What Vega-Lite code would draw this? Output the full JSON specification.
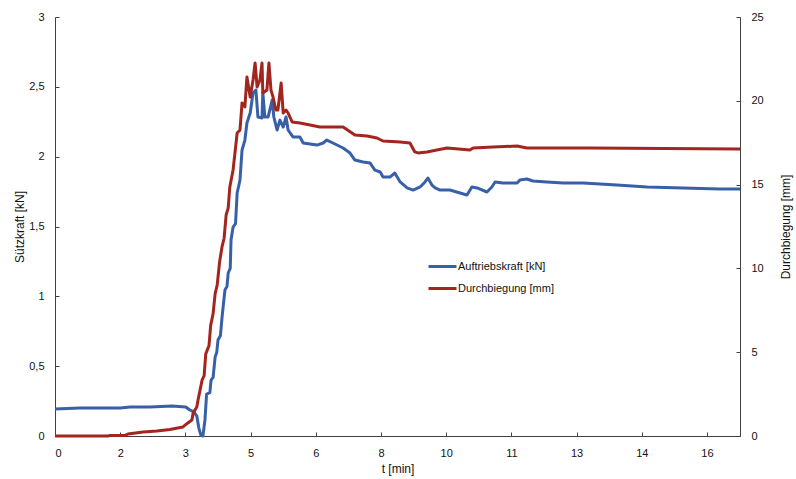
{
  "$schema": "https://vega.github.io/schema/vega-lite/v6.json",
  "width": 685,
  "height": 419,
  "autosize": {"type": "none"},
  "padding": {"left": 55, "top": 17, "right": 56, "bottom": 43},
  "background": "white",
  "config": {
    "font": "Liberation Sans",
    "view": {"stroke": null},
    "axis": {
      "grid": false,
      "labelFont": "Liberation Sans",
      "titleFont": "Liberation Sans",
      "labelFontSize": 11,
      "titleFontSize": 12,
      "titleFontWeight": "normal",
      "labelColor": "#111",
      "titleColor": "#111",
      "domainColor": "#404040",
      "tickColor": "#404040",
      "domainWidth": 1,
      "tickSize": -4,
      "labelPadding": 15
    }
  },
  "datasets": {
    "kraft": [
      {"t": 0, "v": 0.193}, {"t": 0.61, "v": 0.2}, {"t": 1.1, "v": 0.2}, {"t": 1.6, "v": 0.2}, {"t": 1.84, "v": 0.208},
      {"t": 2.33, "v": 0.208}, {"t": 2.87, "v": 0.215}, {"t": 3.21, "v": 0.208}, {"t": 3.31, "v": 0.186}, {"t": 3.41, "v": 0.172},
      {"t": 3.48, "v": 0.143}, {"t": 3.53, "v": 0.057}, {"t": 3.58, "v": 0.006}, {"t": 3.63, "v": 0}, {"t": 3.68, "v": 0.115},
      {"t": 3.72, "v": 0.3}, {"t": 3.8, "v": 0.31}, {"t": 3.83, "v": 0.4}, {"t": 3.88, "v": 0.42}, {"t": 3.93, "v": 0.566}, {"t": 3.97, "v": 0.6}, {"t": 4.0, "v": 0.687},
      {"t": 4.06, "v": 0.72}, {"t": 4.1, "v": 0.852}, {"t": 4.17, "v": 1.045}, {"t": 4.22, "v": 1.07}, {"t": 4.25, "v": 1.167}, {"t": 4.3, "v": 1.2}, {"t": 4.32, "v": 1.403}, {"t": 4.37, "v": 1.496},
      {"t": 4.43, "v": 1.52}, {"t": 4.47, "v": 1.74}, {"t": 4.54, "v": 1.833}, {"t": 4.59, "v": 2.048}, {"t": 4.66, "v": 2.119}, {"t": 4.71, "v": 2.241},
      {"t": 4.79, "v": 2.313}, {"t": 4.86, "v": 2.456}, {"t": 4.93, "v": 2.477}, {"t": 4.98, "v": 2.284}, {"t": 5.08, "v": 2.277},
      {"t": 5.1, "v": 2.456}, {"t": 5.15, "v": 2.284}, {"t": 5.23, "v": 2.284}, {"t": 5.33, "v": 2.406}, {"t": 5.37, "v": 2.284},
      {"t": 5.45, "v": 2.191}, {"t": 5.52, "v": 2.262}, {"t": 5.6, "v": 2.212}, {"t": 5.67, "v": 2.284}, {"t": 5.72, "v": 2.191},
      {"t": 5.84, "v": 2.141}, {"t": 6.01, "v": 2.141}, {"t": 6.09, "v": 2.098}, {"t": 6.43, "v": 2.083}, {"t": 6.58, "v": 2.098},
      {"t": 6.67, "v": 2.119}, {"t": 6.82, "v": 2.098}, {"t": 7.07, "v": 2.062}, {"t": 7.24, "v": 2.026}, {"t": 7.36, "v": 1.976},
      {"t": 7.56, "v": 1.962}, {"t": 7.73, "v": 1.955}, {"t": 7.85, "v": 1.904}, {"t": 7.98, "v": 1.89}, {"t": 8.05, "v": 1.854},
      {"t": 8.22, "v": 1.854}, {"t": 8.34, "v": 1.883}, {"t": 8.47, "v": 1.819}, {"t": 8.64, "v": 1.776}, {"t": 8.79, "v": 1.761},
      {"t": 8.96, "v": 1.783}, {"t": 9.08, "v": 1.819}, {"t": 9.15, "v": 1.847}, {"t": 9.25, "v": 1.797}, {"t": 9.33, "v": 1.776},
      {"t": 9.45, "v": 1.761}, {"t": 9.69, "v": 1.761}, {"t": 9.94, "v": 1.74}, {"t": 10.11, "v": 1.726}, {"t": 10.23, "v": 1.783},
      {"t": 10.36, "v": 1.776}, {"t": 10.6, "v": 1.747}, {"t": 10.72, "v": 1.783}, {"t": 10.8, "v": 1.819}, {"t": 10.99, "v": 1.811},
      {"t": 11.34, "v": 1.811}, {"t": 11.41, "v": 1.833}, {"t": 11.58, "v": 1.84}, {"t": 11.73, "v": 1.826}, {"t": 12.07, "v": 1.819},
      {"t": 12.47, "v": 1.811}, {"t": 12.96, "v": 1.811}, {"t": 13.79, "v": 1.797}, {"t": 14.53, "v": 1.783}, {"t": 15.41, "v": 1.776},
      {"t": 16.32, "v": 1.768}, {"t": 16.81, "v": 1.768}
    ],
    "biegung": [
      {"t": 0, "d": 0}, {"t": 1.3, "d": 0}, {"t": 1.35, "d": 0.03}, {"t": 1.72, "d": 0.03}, {"t": 1.79, "d": 0.12},
      {"t": 2.16, "d": 0.24}, {"t": 2.5, "d": 0.3}, {"t": 2.82, "d": 0.39}, {"t": 3.14, "d": 0.54}, {"t": 3.26, "d": 0.78},
      {"t": 3.36, "d": 0.95}, {"t": 3.39, "d": 1.37}, {"t": 3.48, "d": 1.73}, {"t": 3.51, "d": 2.15}, {"t": 3.56, "d": 2.74},
      {"t": 3.61, "d": 3.34}, {"t": 3.66, "d": 3.6}, {"t": 3.7, "d": 4.9}, {"t": 3.78, "d": 5.4}, {"t": 3.82, "d": 6.6}, {"t": 3.88, "d": 7.3},
      {"t": 3.93, "d": 8.5}, {"t": 3.98, "d": 9.0}, {"t": 4.04, "d": 10.4}, {"t": 4.1, "d": 11.3}, {"t": 4.15, "d": 11.8},
      {"t": 4.2, "d": 13.2}, {"t": 4.25, "d": 13.6}, {"t": 4.29, "d": 14.86}, {"t": 4.37, "d": 15.87}, {"t": 4.47, "d": 18.08}, {"t": 4.54, "d": 18.26},
      {"t": 4.59, "d": 19.87}, {"t": 4.66, "d": 19.63}, {"t": 4.71, "d": 21.42}, {"t": 4.79, "d": 20.23}, {"t": 4.86, "d": 21.24},
      {"t": 4.91, "d": 22.26}, {"t": 4.96, "d": 20.82}, {"t": 5.03, "d": 21.24}, {"t": 5.08, "d": 22.26}, {"t": 5.1, "d": 20.47},
      {"t": 5.2, "d": 20.64}, {"t": 5.25, "d": 22.26}, {"t": 5.3, "d": 20.64}, {"t": 5.35, "d": 20.23}, {"t": 5.42, "d": 19.45},
      {"t": 5.47, "d": 19.45}, {"t": 5.55, "d": 21.06}, {"t": 5.6, "d": 19.27}, {"t": 5.67, "d": 19.45}, {"t": 5.72, "d": 19.27},
      {"t": 5.82, "d": 18.74}, {"t": 6.01, "d": 18.68}, {"t": 6.26, "d": 18.56}, {"t": 6.5, "d": 18.44}, {"t": 7.07, "d": 18.44},
      {"t": 7.36, "d": 17.96}, {"t": 7.66, "d": 17.9}, {"t": 7.9, "d": 17.78}, {"t": 8.05, "d": 17.6}, {"t": 8.47, "d": 17.54},
      {"t": 8.71, "d": 17.48}, {"t": 8.83, "d": 16.95}, {"t": 8.91, "d": 16.89}, {"t": 9.13, "d": 16.95}, {"t": 9.37, "d": 17.06},
      {"t": 9.62, "d": 17.18}, {"t": 10.18, "d": 17.06}, {"t": 10.26, "d": 17.18}, {"t": 10.75, "d": 17.24}, {"t": 11.34, "d": 17.3},
      {"t": 11.58, "d": 17.18}, {"t": 13.13, "d": 17.18}, {"t": 16.81, "d": 17.12}
    ]
  },
  "layer": [
    {
      "data": {"name": "kraft"},
      "mark": {"type": "line", "strokeWidth": 3, "strokeJoin": "round"},
      "encoding": {
        "x": {
          "field": "t", "type": "quantitative",
          "scale": {"domain": [0, 16.81], "nice": false, "zero": false},
          "axis": {
            "title": "t [min]",
            "values": [0, 1.6, 3.2, 4.8, 6.4, 8.0, 9.6, 11.2, 12.8, 14.4, 16.0],
            "labelExpr": "format(round(datum.value), 'd')",
            "titlePadding": 5
          }
        },
        "y": {
          "field": "v", "type": "quantitative",
          "scale": {"domain": [0, 3], "nice": false},
          "axis": {
            "orient": "left",
            "title": "Sützkraft [kN]",
            "values": [0, 0.5, 1, 1.5, 2, 2.5, 3],
            "labelExpr": "replace(format(datum.value, '~g'), '.', ',')",
            "titlePadding": 2
          }
        },
        "color": {
          "datum": "Auftriebskraft [kN]", "type": "nominal",
          "scale": {"domain": ["Auftriebskraft [kN]", "Durchbiegung [mm]"], "range": ["#3860A8", "#A3251F"]},
          "legend": {
            "orient": "none", "legendX": 372, "legendY": 234, "title": null,
            "symbolType": "stroke", "symbolSize": 784, "symbolStrokeWidth": 3,
            "labelFont": "Liberation Sans", "labelFontSize": 11, "labelColor": "#111", "labelOffset": 0,
            "rowPadding": -6, "padding": 0
          }
        }
      }
    },
    {
      "data": {"name": "biegung"},
      "mark": {"type": "line", "strokeWidth": 3, "strokeJoin": "round"},
      "encoding": {
        "x": {"field": "t", "type": "quantitative"},
        "y": {
          "field": "d", "type": "quantitative",
          "scale": {"domain": [0, 25], "nice": false},
          "axis": {
            "orient": "right",
            "title": "Durchbiegung [mm]",
            "titleAngle": -90,
            "values": [0, 5, 10, 15, 20, 25],
            "titlePadding": 29
          }
        },
        "color": {"datum": "Durchbiegung [mm]", "type": "nominal"}
      }
    }
  ],
  "resolve": {"scale": {"y": "independent"}}
}
